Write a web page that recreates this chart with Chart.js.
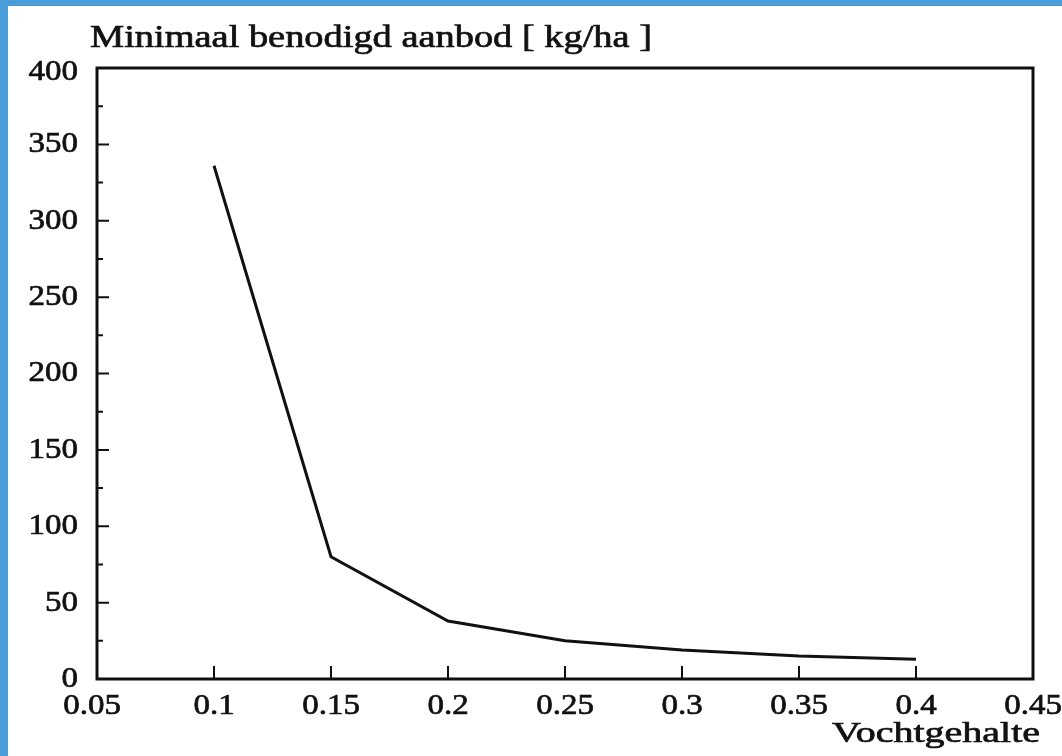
<!DOCTYPE html>
<html>
<head>
<meta charset="utf-8">
<script src="https://cdn.jsdelivr.net/npm/chart.js@4"></script>
<style>
  html, body { margin: 0; padding: 0; background: #4a9dd8; }
  #wrap { position: absolute; left: 8px; top: 6px; width: 1054px; height: 750px; background: #fff; }
  canvas { display: block; }
</style>
</head>
<body>
<div id="wrap"><canvas id="c" width="1054" height="750"></canvas></div>
<script>
const moisture = [0.1, 0.15, 0.2, 0.25, 0.3, 0.35, 0.4];
const minSupply = [336, 80, 38, 25, 19, 15, 13];
const xTicks = [0.05, 0.1, 0.15, 0.2, 0.25, 0.3, 0.35, 0.4, 0.45];
const xTickLabels = ['0.05', '0.1', '0.15', '0.2', '0.25', '0.3', '0.35', '0.4', '0.45'];
const yTicks = [0, 50, 100, 150, 200, 250, 300, 350, 400];
const yTickLabels = ['0', '50', '100', '150', '200', '250', '300', '350', '400'];
const yMinorTicks = [25, 75, 125, 175, 225, 275, 325, 375];
const titleText = 'Minimaal benodigd aanbod [ kg/ha ]';
const xAxisText = 'Vochtgehalte';

const FONT = '"Liberation Serif", "Times New Roman", serif';
const INK = '#111';

// draw text stretched horizontally by sx, anchored by align
function stretchedText(ctx, text, x, y, sx, align) {
  ctx.save();
  ctx.translate(x, y);
  ctx.scale(sx, 1);
  ctx.textAlign = align;
  ctx.fillText(text, 0, 0);
  ctx.lineWidth = 0.7;
  ctx.strokeText(text, 0, 0);
  ctx.restore();
}

const framePlugin = {
  id: 'frame',
  afterDraw(chart) {
    const ctx = chart.ctx;
    const a = chart.chartArea;
    const xs = chart.scales.x, ys = chart.scales.y;
    ctx.save();
    ctx.strokeStyle = INK;
    ctx.lineWidth = 3;
    ctx.strokeRect(a.left, a.top, a.right - a.left, a.bottom - a.top);
    ctx.lineWidth = 2;
    ctx.beginPath();
    yTicks.forEach(v => {
      const y = ys.getPixelForValue(v);
      ctx.moveTo(a.left, y); ctx.lineTo(a.left + 12, y);
    });
    yMinorTicks.forEach(v => {
      const y = ys.getPixelForValue(v);
      ctx.moveTo(a.left, y); ctx.lineTo(a.left + 6, y);
    });
    xTicks.forEach(v => {
      const x = xs.getPixelForValue(v);
      ctx.moveTo(x, a.bottom); ctx.lineTo(x, a.bottom - 13);
    });
    ctx.stroke();

    ctx.fillStyle = INK;
    ctx.strokeStyle = INK;
    ctx.font = '30px ' + FONT;
    ctx.textBaseline = 'middle';
    yTicks.forEach((v, i) => {
      const y = ys.getPixelForValue(v);
      stretchedText(ctx, yTickLabels[i], a.left - 19, y + (i === yTicks.length - 1 ? 4 : 0), 1.1, 'right');
    });
    ctx.textBaseline = 'alphabetic';
    xTicks.forEach((v, i) => {
      const x = xs.getPixelForValue(v) - (i === 0 ? 5 : 0);
      stretchedText(ctx, xTickLabels[i], x, 708, 1.1, 'center');
    });

    ctx.font = '32px ' + FONT;
    const tw = ctx.measureText(titleText).width;
    stretchedText(ctx, titleText, 82, 41, 562 / tw, 'left');

    ctx.font = '30px ' + FONT;
    const xw = ctx.measureText(xAxisText).width;
    stretchedText(ctx, xAxisText, 1032, 736, 208 / xw, 'right');
    ctx.restore();
  }
};

new Chart(document.getElementById('c'), {
  type: 'line',
  data: {
    datasets: [{
      data: moisture.map((x, i) => ({ x: x, y: minSupply[i] })),
      borderColor: INK,
      borderWidth: 3,
      pointRadius: 0,
      tension: 0,
      fill: false
    }]
  },
  options: {
    responsive: false,
    animation: false,
    layout: { padding: { top: 62, right: 29, left: 0, bottom: 0 } },
    plugins: { legend: { display: false }, tooltip: { enabled: false } },
    scales: {
      x: {
        type: 'linear',
        min: 0.05, max: 0.45,
        afterBuildTicks: s => { s.ticks = xTicks.map(v => ({ value: v })); },
        afterFit: s => { s.height = 77; },
        grid: { display: false, drawTicks: false },
        border: { display: false },
        ticks: { display: false }
      },
      y: {
        type: 'linear',
        min: 0, max: 400,
        afterBuildTicks: s => { s.ticks = yTicks.map(v => ({ value: v })); },
        afterFit: s => { s.width = 89; },
        grid: { display: false, drawTicks: false },
        border: { display: false },
        ticks: { display: false }
      }
    }
  },
  plugins: [framePlugin]
});
</script>
</body>
</html>
